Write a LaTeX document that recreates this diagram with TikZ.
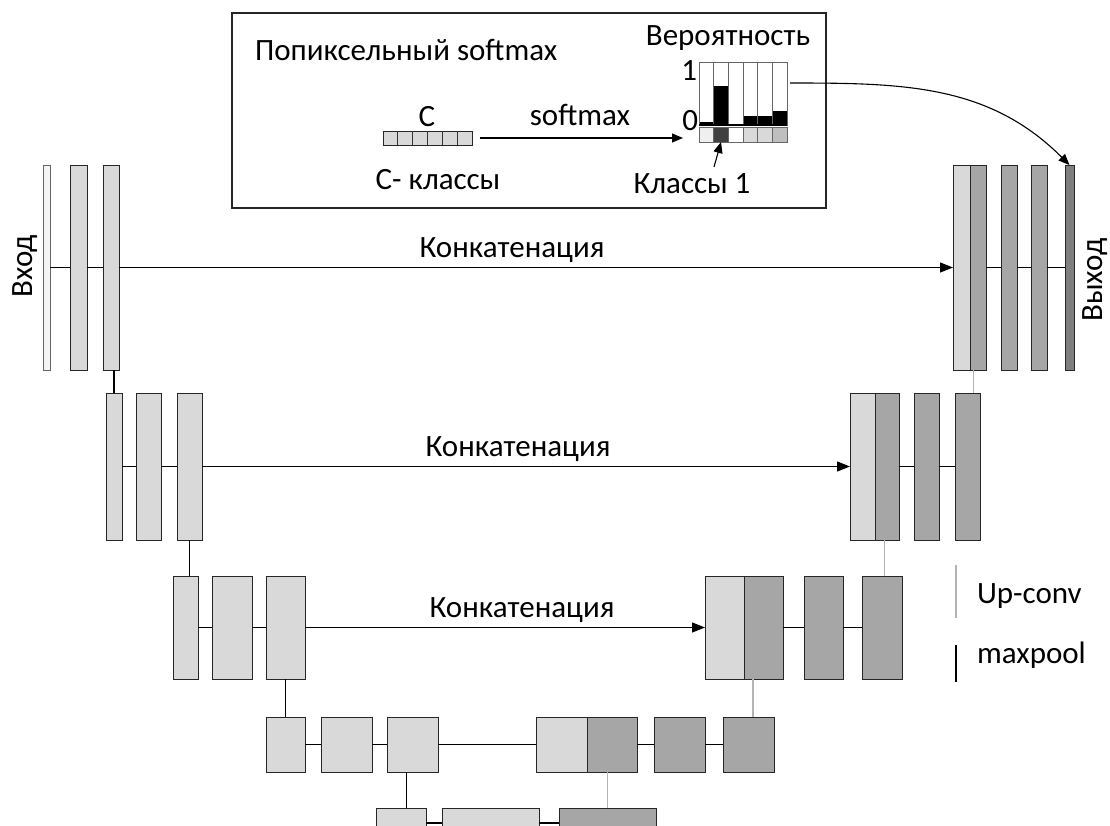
\documentclass[tikz,border=0pt]{standalone}
\usepackage{fontspec}
\setmainfont{Carlito}
\usetikzlibrary{arrows.meta,calc}
\definecolor{lg}{HTML}{D9D9D9}
\definecolor{dg}{HTML}{A6A6A6}
\definecolor{og}{HTML}{7F7F7F}
\definecolor{ug}{HTML}{B4B4B4}
\definecolor{ig}{HTML}{F4F4F4}
\newcommand\blk[6]{\node[#2, minimum width={(#5-#3)*1pt}, minimum height={(#6-#4)*1pt}] (#1) at ({(#3+#5)/2},{(#4+#6)/2}) {};}
\begin{document}
\begin{tikzpicture}[x=1pt,y=-1pt,
  every node/.style={font=\fontsize{31}{37}\selectfont, inner sep=0pt, outer sep=0pt},
  bar/.style={draw=black!85, line width=1pt},
  light/.style={bar, fill=lg},
  dark/.style={bar, fill=dg},
  outb/.style={bar, fill=og},
  inb/.style={bar, draw=black!60, fill=ig},
  link/.style={line width=1.3pt, black},
  upc/.style={line width=1.3pt, ug},
  concat/.style={line width=1.3pt, -{Triangle[length=13pt,width=10pt]}},
  smallarr/.style={line width=1.1pt, -{Triangle[length=11pt,width=9pt]}}
]
\useasboundingbox (0,0) rectangle (1110,825);

% ---------- row 1 ----------
\blk{i1}{inb}{43}{165}{50}{370}
\blk{i2}{light}{70}{165}{87}{370}
\blk{i3}{light}{103}{165}{119}{370}
\blk{o1a}{light}{953}{165}{970}{370}
\blk{o1b}{dark}{970}{165}{986}{370}
\blk{o1c}{dark}{1001}{165}{1017}{370}
\blk{o1d}{dark}{1031}{165}{1047}{370}
\blk{o1e}{outb}{1065}{165}{1074}{370}
\draw[link] (i1) -- (i2);
\draw[link] (i2) -- (i3);
\draw[concat] (i3) -- (o1a);
\draw[link] (o1b) -- (o1c);
\draw[link] (o1c) -- (o1d);
\draw[link] (o1d) -- (o1e);
\node[anchor=base] (k1) at (512,257) {Конкатенация};
\node[rotate=90] (vin) at (25,266) {Вход};
\node[rotate=90] (vout) at (1095,280) {Выход};

% ---------- row 2 ----------
\blk{l2a}{light}{106}{393}{122}{540}
\blk{l2b}{light}{136}{393}{161}{540}
\blk{l2c}{light}{177}{393}{202}{540}
\blk{r2a}{light}{850}{393}{875}{540}
\blk{r2b}{dark}{875}{393}{899}{540}
\blk{r2c}{dark}{914}{393}{939}{540}
\blk{r2d}{dark}{955}{393}{980}{540}
\draw[link] (l2a) -- (l2b);
\draw[link] (l2b) -- (l2c);
\draw[concat] (l2c) -- (r2a);
\draw[link] (r2b) -- (r2c);
\draw[link] (r2c) -- (r2d);
\node[anchor=base] (k2) at (518,456) {Конкатенация};

% ---------- row 3 ----------
\blk{l3a}{light}{173}{576}{198}{679}
\blk{l3b}{light}{212}{576}{252}{679}
\blk{l3c}{light}{266}{576}{305}{679}
\blk{r3a}{light}{705}{576}{744}{679}
\blk{r3b}{dark}{744}{576}{783}{679}
\blk{r3c}{dark}{804}{576}{843}{679}
\blk{r3d}{dark}{862}{576}{902}{679}
\draw[link] (l3a) -- (l3b);
\draw[link] (l3b) -- (l3c);
\draw[concat] (l3c) -- (r3a);
\draw[link] (r3b) -- (r3c);
\draw[link] (r3c) -- (r3d);
\node[anchor=base] (k3) at (522,617) {Конкатенация};

% ---------- row 4 ----------
\blk{l4a}{light}{266}{717}{305}{772}
\blk{l4b}{light}{321}{717}{372}{772}
\blk{l4c}{light}{387}{717}{438}{772}
\blk{r4a}{light}{536}{717}{587}{772}
\blk{r4b}{dark}{587}{717}{637}{772}
\blk{r4c}{dark}{654}{717}{705}{772}
\blk{r4d}{dark}{723}{717}{774}{772}
\draw[link] (l4a) -- (l4b);
\draw[link] (l4b) -- (l4c);
\draw[link] (l4c) -- (r4a);
\draw[link] (r4b) -- (r4c);
\draw[link] (r4c) -- (r4d);

% ---------- row 5 ----------
\blk{l5a}{light}{376}{808}{426}{838}
\blk{l5b}{light}{442}{808}{539}{838}
\blk{l5c}{dark}{559}{808}{656}{838}
\draw[link] (l5a) -- (l5b);
\draw[link] (l5b) -- (l5c);

% ---------- maxpool (down) ----------
\draw[link] (l2a.north |- i3.south) -- (l2a.north);
\draw[link] (l2c.south) -- (l2c.south |- l3a.north);
\draw[link] (l3c.south) -- (l3c.south |- l4a.north);
\coordinate (m4) at ($(l4c.south)!0.5!(l5a.north)$);
\draw[link] (m4 |- l4c.south) -- (m4 |- l5a.north);

% ---------- up-conv ----------
\draw[upc] (l5c.north) -- (l5c.north |- r4b.south);
\coordinate (u4) at ($(r4d.north)!0.3!(r3b.south)$);
\draw[upc] (u4 |- r4d.north) -- (u4 |- r3b.south);
\coordinate (u3) at ($(r3d.north)!0.5!(r2b.south)$);
\draw[upc] (u3 |- r3d.north) -- (u3 |- r2b.south);
\coordinate (u2) at ($(r2d.north)!0.6!(o1b.south)$);
\draw[upc] (u2 |- r2d.north) -- (u2 |- o1b.south);

% ---------- legend ----------
\coordinate (ua) at (956,565);
\coordinate (ub) at (956,618);
\coordinate (ma) at (956,645);
\coordinate (mb) at (956,682);
\draw[upc] (ua) -- (ub);
\draw[link] (ma) -- (mb);
\node[anchor=base west] (lu) at (977,603) {Up-conv};
\node[anchor=base west] (lm) at (977,663) {maxpool};

% ---------- inset ----------
\node[draw=black!85, line width=1.1pt, minimum width=594pt, minimum height=195pt] (inset) at (529,110.5) {};
\node[anchor=base west] (title) at (255,60) {Попиксельный softmax};
\node[anchor=base] (cc) at (427,126) {C};
\blk{cbar}{light}{383}{131}{472}{145}
\foreach \i in {1,...,5} \draw[black!80, line width=0.8pt] ({383+\i*89/6},131) -- ({383+\i*89/6},145);
\node[anchor=base] (ck) at (438,189) {С- классы};
\coordinate (sa) at (480,138);
\coordinate (sb) at (683,138);
\draw[smallarr] (sa) -- (sb);
\node[anchor=base] (sm) at (580,125) {softmax};
\node[anchor=base] (prob) at (728,45) {Вероятность};
% chart
\def\cw{14.6667}
\foreach \i/\t in {0/122,1/86,2/124,3/116,4/116,5/111}
  \fill[black] ({699+\i*\cw},\t) rectangle ({699+(\i+1)*\cw},125);
\foreach \i in {1,...,5} \draw[black!60, line width=0.8pt] ({699+\i*\cw},62) -- ({699+\i*\cw},125);
\node[draw=black!60, line width=0.8pt, minimum width=88pt, minimum height=63pt] (chart) at (743,93.5) {};
\draw[black, line width=1.5pt] (chart.south west) -- (chart.south east);
\node[anchor=east] (one) at (697,71) {1};
\node[anchor=east] (zero) at (698,121) {0};
\foreach \i/\c in {0/EFEFEF,1/404040,2/FFFFFF,3/D9D9D9,4/D9D9D9,5/BFBFBF}{
  \definecolor{cellc}{HTML}{\c}
  \draw[black!60, line width=0.8pt, fill=cellc] ({699+\i*\cw},127) rectangle ({699+(\i+1)*\cw},142);
}
\coordinate (cls) at (721,142);
\coordinate (kla) at (714,167);
\node[anchor=base] (kl) at (692,193) {Классы 1};
\draw[smallarr] (kla) -- (cls);
\coordinate (cs) at (790,83);
\draw[smallarr] (cs) to[out=0,in=135] (o1e.north);
\end{tikzpicture}
\end{document}
